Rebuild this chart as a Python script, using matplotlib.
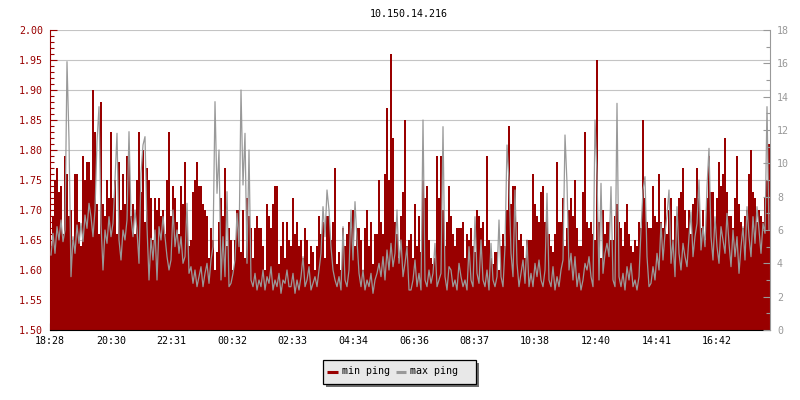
import matplotlib
matplotlib.use("Agg")
import matplotlib.pyplot as plt
import numpy as np
from matplotlib.patches import Rectangle
from matplotlib.lines import Line2D
from matplotlib.ticker import MultipleLocator

title = "10.150.14.216"
tick_labels = ["18:28", "20:30", "22:31", "00:32", "02:33", "04:34",
               "06:36", "08:37", "10:38", "12:40", "14:41", "16:42"]
left_ticks = [1.50, 1.55, 1.60, 1.65, 1.70, 1.75, 1.80, 1.85, 1.90, 1.95, 2.00]
right_ticks = [0, 2, 4, 6, 8, 10, 12, 14, 16, 18]
series_names = ["min ping", "max ping"]

# min ping (left axis), 4-minute samples over 24 h
min_ping = [
    1.64, 1.69, 1.75, 1.77, 1.73, 1.74, 1.66, 1.79, 1.76, 1.69, 1.70, 1.65, 1.76, 1.76, 1.68,
    1.64, 1.79, 1.75, 1.78, 1.78, 1.75, 1.90, 1.83, 1.71, 1.66, 1.88, 1.71, 1.69, 1.75, 1.72,
    1.83, 1.72, 1.75, 1.66, 1.78, 1.70, 1.76, 1.71, 1.79, 1.80, 1.69, 1.71, 1.66, 1.75, 1.83,
    1.73, 1.80, 1.68, 1.77, 1.75, 1.72, 1.65, 1.72, 1.70, 1.72, 1.69, 1.70, 1.66, 1.75, 1.83,
    1.69, 1.74, 1.72, 1.68, 1.66, 1.74, 1.71, 1.78, 1.68, 1.64, 1.65, 1.73, 1.75, 1.78, 1.74,
    1.74, 1.71, 1.70, 1.69, 1.62, 1.67, 1.65, 1.60, 1.63, 1.68, 1.72, 1.69, 1.77, 1.64, 1.67,
    1.65, 1.60, 1.65, 1.70, 1.70, 1.63, 1.70, 1.62, 1.72, 1.69, 1.67, 1.62, 1.67, 1.69, 1.67,
    1.67, 1.64, 1.60, 1.71, 1.69, 1.67, 1.71, 1.74, 1.74, 1.61, 1.64, 1.68, 1.62, 1.68, 1.65,
    1.64, 1.72, 1.66, 1.68, 1.64, 1.65, 1.62, 1.67, 1.65, 1.61, 1.64, 1.63, 1.60, 1.64, 1.69,
    1.66, 1.68, 1.62, 1.69, 1.69, 1.65, 1.68, 1.77, 1.61, 1.63, 1.60, 1.67, 1.64, 1.66, 1.68,
    1.67, 1.70, 1.64, 1.67, 1.67, 1.65, 1.60, 1.67, 1.70, 1.64, 1.68, 1.61, 1.66, 1.66, 1.75,
    1.68, 1.66, 1.76, 1.87, 1.75, 1.96, 1.82, 1.68, 1.66, 1.62, 1.69, 1.73, 1.85, 1.64, 1.65,
    1.66, 1.62, 1.71, 1.64, 1.69, 1.63, 1.75, 1.72, 1.74, 1.65, 1.62, 1.61, 1.62, 1.79, 1.72,
    1.79, 1.70, 1.64, 1.68, 1.74, 1.69, 1.66, 1.64, 1.67, 1.67, 1.67, 1.68, 1.62, 1.66, 1.65,
    1.67, 1.64, 1.63, 1.70, 1.69, 1.67, 1.68, 1.64, 1.79, 1.65, 1.62, 1.61, 1.63, 1.63, 1.60,
    1.64, 1.66, 1.64, 1.70, 1.84, 1.71, 1.74, 1.74, 1.68, 1.65, 1.66, 1.64, 1.62, 1.65, 1.65,
    1.65, 1.76, 1.71, 1.69, 1.68, 1.73, 1.74, 1.68, 1.70, 1.66, 1.64, 1.63, 1.66, 1.78, 1.68,
    1.68, 1.72, 1.64, 1.67, 1.70, 1.72, 1.69, 1.75, 1.67, 1.64, 1.64, 1.73, 1.83, 1.68, 1.67,
    1.68, 1.66, 1.65, 1.95, 1.68, 1.62, 1.70, 1.66, 1.68, 1.68, 1.65, 1.65, 1.69, 1.71, 1.68,
    1.67, 1.64, 1.68, 1.71, 1.66, 1.64, 1.63, 1.65, 1.64, 1.68, 1.67, 1.85, 1.72, 1.68, 1.67,
    1.67, 1.74, 1.69, 1.68, 1.76, 1.68, 1.67, 1.72, 1.66, 1.70, 1.72, 1.65, 1.69, 1.68, 1.72,
    1.73, 1.77, 1.70, 1.67, 1.70, 1.66, 1.71, 1.72, 1.77, 1.72, 1.67, 1.70, 1.65, 1.72, 1.79,
    1.73, 1.73, 1.67, 1.72, 1.78, 1.74, 1.76, 1.82, 1.73, 1.69, 1.69, 1.67, 1.72, 1.79, 1.71,
    1.68, 1.67, 1.69, 1.70, 1.76, 1.80, 1.73, 1.72, 1.68, 1.70, 1.69, 1.68, 1.72, 1.75, 1.81,
]

# max ping (right axis)
max_ping = [
    4.5, 5.8, 4.6, 6.2, 5.4, 6.6, 5.3, 6.0, 16.1, 11.4, 3.2, 5.6, 4.6, 6.3, 5.2,
    6.4, 5.3, 6.9, 6.1, 7.6, 6.8, 5.6, 7.2, 11.3, 13.4, 6.4, 3.6, 6.0, 5.2, 6.8,
    5.6, 6.4, 9.0, 11.8, 5.4, 4.2, 6.0, 5.4, 6.6, 11.9, 6.8, 5.6, 7.2, 6.0, 4.0,
    9.4, 11.1, 11.6, 6.2, 3.0, 5.5, 4.2, 6.0, 3.0, 6.2, 5.4, 6.8, 5.6, 4.4, 3.6,
    4.2, 7.2, 5.0, 6.0, 4.6, 5.6, 4.0, 4.4, 7.6, 3.4, 3.8, 2.8, 3.6, 2.6, 3.2,
    3.8, 2.6, 3.4, 4.0, 2.8, 4.2, 5.0, 13.7, 8.2, 10.8, 3.0, 5.6, 3.2, 8.3, 2.6,
    2.8, 3.4, 4.2, 7.0, 5.0, 14.4, 8.7, 11.8, 4.0, 10.8, 3.0, 2.6, 3.4, 2.4, 3.0,
    2.6, 3.6, 2.4, 3.2, 2.8, 3.8, 2.4, 3.0, 2.6, 3.4, 2.2, 3.0, 2.8, 3.6, 2.6,
    2.6, 3.4, 2.2, 3.0, 2.4, 3.2, 4.4, 2.6, 3.0, 3.8, 2.4, 2.8, 3.2, 2.6, 3.6,
    4.6, 7.4, 5.6, 8.4, 7.2, 5.0, 3.6, 3.0, 2.6, 3.2, 2.4, 6.2, 3.0, 2.6, 3.6,
    7.2, 4.2, 7.7, 5.4, 3.4, 2.6, 3.6, 2.4, 3.0, 2.6, 3.4, 2.2, 3.0, 3.4, 4.0,
    3.2, 4.4, 3.0, 4.8, 3.6, 5.2, 3.8, 4.6, 7.2, 4.0, 5.4, 3.2, 4.0, 5.0, 2.4,
    2.4, 3.0, 4.2, 2.6, 3.4, 2.4, 12.6, 3.0, 2.6, 3.6, 2.8, 3.4, 5.2, 2.6, 3.0,
    3.4, 12.2, 3.2, 2.4, 3.8, 3.6, 2.6, 3.0, 2.4, 4.0, 3.2, 2.6, 3.0, 2.4, 5.0,
    3.0, 2.6, 6.8, 3.4, 2.8, 5.4, 3.0, 2.6, 3.6, 2.4, 5.2, 3.0, 2.6, 3.2, 6.6,
    3.2, 2.6, 5.0, 11.1, 9.0, 4.6, 3.2, 8.4, 4.0, 2.6, 3.4, 4.2, 2.8, 5.4, 2.6,
    3.4, 2.6, 4.0, 3.2, 4.2, 3.0, 2.6, 3.6, 8.2, 3.0, 2.6, 3.8, 2.4, 3.2, 2.6,
    3.6, 4.2, 11.7, 8.8, 3.6, 4.6, 3.0, 4.4, 2.6, 3.4, 2.4, 3.0, 4.0, 3.6, 4.4,
    3.2, 2.6, 12.6, 9.3, 3.0, 8.8, 3.4, 4.6, 5.2, 4.4, 8.6, 3.0, 2.6, 13.6, 3.2,
    2.6, 3.4, 2.4, 3.8, 3.0, 4.0, 2.6, 3.0, 2.4, 3.2, 6.0, 8.4, 9.2, 4.4, 2.6,
    2.8, 3.8, 3.0, 4.6, 3.6, 6.4, 4.2, 5.8, 6.9, 8.4, 4.0, 5.4, 3.2, 7.4, 4.6,
    3.6, 5.2, 4.4, 3.8, 5.6, 7.1, 4.4, 5.6, 6.4, 9.0, 4.8, 6.2, 5.0, 8.6, 10.9,
    5.6, 4.2, 6.8, 5.0, 4.0, 6.2, 5.4, 4.6, 7.0, 5.2, 3.8, 6.0, 4.4, 5.6, 3.4,
    5.0, 6.2, 4.2, 7.4, 5.6, 4.4, 6.8, 5.2, 7.4, 6.0, 4.6, 6.4, 5.8, 13.4, 6.0,
]

RED = "#990000"
GRAY = "#999999"
FONT = "DejaVu Sans Mono"
FS = 7.2


def minutes_after_start(label, start=tick_labels[0]):
    h, m = map(int, label.split(":"))
    h0, m0 = map(int, start.split(":"))
    return ((h * 60 + m) - (h0 * 60 + m0)) % 1440


W, H = 800, 400
fig = plt.figure(figsize=(W / 100, H / 100), dpi=100)
fig.patch.set_facecolor("white")
ax = fig.add_axes([50 / W, 70 / H, 720 / W, 300 / H])

n = len(min_ping)
edges = np.linspace(0, 1440, n + 1)
centers = (edges[:-1] + edges[1:]) / 2
ax.stairs(min_ping, edges, baseline=left_ticks[0], fill=True, color=RED, lw=0,
          zorder=2, antialiased=False)
ax.set_xlim(0, 1440)
ax.set_ylim(left_ticks[0], left_ticks[-1])
ax.set_yticks(left_ticks)
ax.set_yticklabels([f"{v:.2f}" for v in left_ticks], family=FONT, fontsize=FS, color=RED)
ax.yaxis.set_minor_locator(MultipleLocator(0.01))
ax.set_xticks([minutes_after_start(s) for s in tick_labels])
ax.set_xticklabels(tick_labels, family=FONT, fontsize=FS, color="black")
ax.grid(axis="y", color="#c4c4c4", lw=0.8, zorder=0)
ax.set_axisbelow(True)
ax.tick_params(axis="y", which="major", direction="in", length=5, width=0.8, color=RED, pad=5)
ax.tick_params(axis="y", which="minor", direction="in", length=3, width=0.8, color=RED)
ax.tick_params(axis="x", which="major", direction="in", length=5, width=0.8, color="black", pad=4)
ax.spines["top"].set_visible(False)
ax.spines["right"].set_visible(False)
ax.spines["left"].set_color(RED)
ax.spines["left"].set_linewidth(0.8)
ax.spines["bottom"].set_color("black")
ax.spines["bottom"].set_linewidth(0.8)

ax2 = ax.twinx()
ax2.plot(centers, max_ping, color=GRAY, lw=0.9, zorder=3)
ax2.set_ylim(right_ticks[0], right_ticks[-1])
ax2.set_yticks(right_ticks)
ax2.set_yticklabels([str(v) for v in right_ticks], family=FONT, fontsize=FS, color=GRAY)
ax2.yaxis.set_minor_locator(MultipleLocator(1))
ax2.tick_params(axis="y", which="major", direction="in", length=5, width=0.8, color=GRAY, pad=5)
ax2.tick_params(axis="y", which="minor", direction="in", length=3, width=0.8, color=GRAY)
for s in ("top", "left", "bottom"):
    ax2.spines[s].set_visible(False)
ax2.spines["right"].set_color(GRAY)
ax2.spines["right"].set_linewidth(0.8)

fig.text(409 / W, 1 - 14 / H, title, family=FONT, fontsize=FS, ha="center", va="center")

# legend box with shadow
lax = fig.add_axes([0, 0, 1, 1])
lax.set_xlim(0, W)
lax.set_ylim(H, 0)
lax.axis("off")
lax.add_patch(Rectangle((326, 363), 153, 24, facecolor="#6e6e6e", edgecolor="none"))
lax.add_patch(Rectangle((322.5, 359.5), 153, 24, facecolor="#e8e8e8", edgecolor="black", lw=0.9))
lax.add_line(Line2D([327, 338], [372, 372], color=RED, lw=2.2, solid_capstyle="butt"))
lax.text(342, 371.5, series_names[0], family=FONT, fontsize=FS, va="center", ha="left")
lax.add_line(Line2D([396, 406], [372, 372], color=GRAY, lw=2.2, solid_capstyle="butt"))
lax.text(410, 371.5, series_names[1], family=FONT, fontsize=FS, va="center", ha="left")

fig.savefig("out.png", dpi=100, facecolor="white")
